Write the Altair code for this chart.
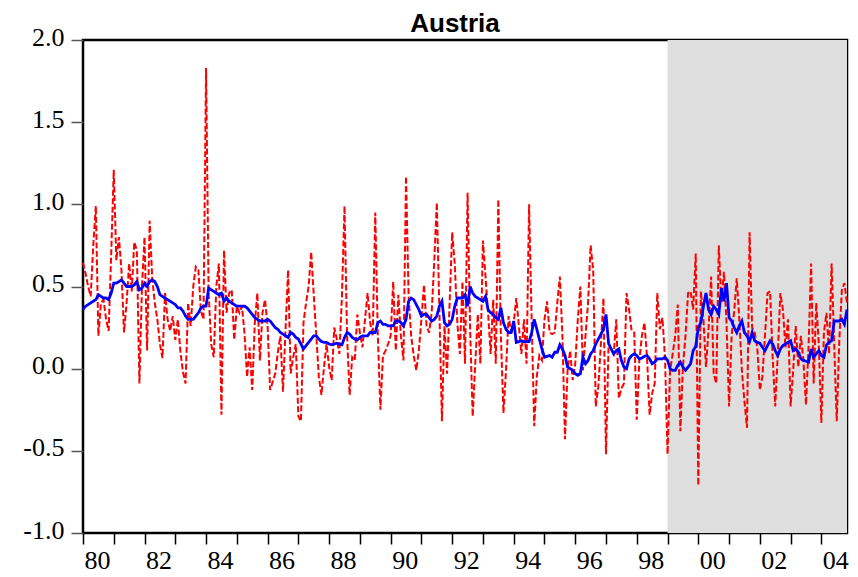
import altair as alt
import pandas as pd

# monthly observations, 1980:01 - 2004:11 (one row per year)
start_year = 1980
euro_start = 1999.0

red_rows = [
    [0.645, 0.58, 0.50, 0.44, 0.75, 0.99, 0.20, 0.40, 0.42, 0.30, 0.23, 0.70],
    [1.21, 0.66, 0.80, 0.60, 0.22, 0.40, 0.64, 0.47, 0.77, 0.72, -0.09, 0.50],
    [0.80, 0.11, 0.90, 0.55, 0.40, 0.30, 0.15, 0.065, 0.46, 0.30, 0.23, 0.32],
    [0.175, 0.30, 0.10, -0.02, -0.09, 0.40, 0.26, 0.50, 0.62, 0.60, 0.35, 0.30],
    [1.83, 0.46, 0.15, 0.07, 0.50, 0.64, -0.28, 0.72, 0.34, 0.46, 0.48, 0.175],
    [0.38, 0.34, 0.38, 0.215, -0.05, 0.13, -0.13, 0.275, 0.46, 0.05, 0.34, 0.42],
    [0.26, -0.13, -0.08, -0.03, 0.10, 0.20, -0.14, 0.24, 0.60, -0.03, 0.07, 0.15],
    [-0.29, -0.32, 0.28, 0.40, 0.50, 0.71, 0.45, 0.20, -0.05, -0.16, 0.01, 0.15],
    [0.01, -0.07, 0.25, 0.18, 0.09, 0.44, 0.99, 0.20, -0.16, 0.07, 0.05, 0.33],
    [0.22, 0.13, 0.30, 0.46, 0.28, 0.20, 0.95, 0.20, -0.25, 0.08, 0.11, 0.15],
    [0.20, 0.53, 0.11, 0.45, 0.20, 0.05, 1.17, 0.44, 0.20, 0.08, -0.01, 0.11],
    [0.30, 0.51, 0.26, 0.22, 0.34, 0.65, 1.01, 0.36, -0.32, 0.26, -0.03, 0.40],
    [0.83, 0.64, 0.28, 0.09, 0.53, 0.03, 1.07, 0.24, -0.29, 0.03, 0.33, 0.03],
    [0.78, 0.56, 0.34, 0.09, 0.42, 0.03, 1.03, 0.20, -0.27, -0.01, 0.32, 0.22],
    [0.28, 0.43, 0.26, 0.09, 0.30, 0.03, 1.00, 0.30, -0.35, -0.05, 0.08, 0.05],
    [0.30, 0.41, 0.22, 0.21, 0.22, 0.40, 0.56, 0.20, -0.43, -0.01, 0.11, -0.07],
    [0.03, 0.30, 0.50, -0.01, 0.20, 0.40, 0.75, 0.60, -0.23, -0.11, 0.15, 0.43],
    [-0.52, 0.15, 0.12, 0.09, 0.30, -0.18, -0.12, -0.09, 0.46, 0.36, 0.23, 0.22],
    [-0.31, 0.05, 0.20, 0.28, 0.07, -0.28, -0.15, -0.09, 0.46, 0.24, 0.31, 0.07],
    [-0.52, -0.01, 0.09, 0.20, 0.39, -0.38, 0.01, 0.20, 0.46, 0.47, 0.36, 0.70],
    [-0.71, 0.47, 0.30, 0.01, 0.24, 0.56, -0.03, -0.09, 0.75, 0.40, 0.59, 0.28],
    [-0.23, 0.20, 0.35, 0.55, 0.30, -0.01, -0.20, -0.36, 0.83, 0.25, 0.22, 0.13],
    [-0.13, -0.05, 0.20, 0.46, 0.47, 0.07, -0.23, 0.09, 0.46, 0.36, 0.13, 0.30],
    [-0.23, -0.01, 0.26, 0.01, 0.20, 0.05, -0.22, 0.13, 0.64, -0.09, 0.40, 0.15],
    [-0.33, 0.22, 0.34, 0.09, 0.64, 0.15, -0.32, 0.17, 0.48, 0.52, 0.40],
]

blue_rows = [
    [0.36, 0.38, 0.39, 0.40, 0.41, 0.42, 0.45, 0.44, 0.43, 0.43, 0.42, 0.46],
    [0.52, 0.52, 0.53, 0.54, 0.52, 0.50, 0.50, 0.50, 0.51, 0.53, 0.48, 0.49],
    [0.52, 0.50, 0.53, 0.54, 0.53, 0.50, 0.45, 0.44, 0.43, 0.42, 0.41, 0.40],
    [0.39, 0.37, 0.37, 0.35, 0.32, 0.30, 0.30, 0.30, 0.32, 0.34, 0.37, 0.38],
    [0.38, 0.49, 0.48, 0.47, 0.46, 0.45, 0.46, 0.41, 0.43, 0.41, 0.40, 0.39],
    [0.38, 0.38, 0.38, 0.38, 0.37, 0.35, 0.33, 0.31, 0.30, 0.29, 0.29, 0.29],
    [0.30, 0.29, 0.27, 0.25, 0.24, 0.22, 0.21, 0.20, 0.19, 0.22, 0.21, 0.19],
    [0.18, 0.15, 0.12, 0.14, 0.16, 0.18, 0.20, 0.20, 0.18, 0.165, 0.16, 0.16],
    [0.15, 0.145, 0.15, 0.155, 0.15, 0.145, 0.19, 0.22, 0.21, 0.19, 0.18, 0.175],
    [0.19, 0.20, 0.20, 0.20, 0.22, 0.22, 0.22, 0.28, 0.29, 0.27, 0.27, 0.26],
    [0.26, 0.26, 0.29, 0.29, 0.28, 0.26, 0.30, 0.41, 0.43, 0.42, 0.39, 0.36],
    [0.32, 0.33, 0.33, 0.31, 0.29, 0.30, 0.32, 0.38, 0.41, 0.28, 0.26, 0.27],
    [0.30, 0.38, 0.43, 0.43, 0.43, 0.45, 0.38, 0.50, 0.46, 0.44, 0.43, 0.42],
    [0.41, 0.44, 0.36, 0.34, 0.33, 0.31, 0.30, 0.37, 0.28, 0.24, 0.22, 0.22],
    [0.29, 0.16, 0.165, 0.17, 0.165, 0.165, 0.165, 0.22, 0.30, 0.24, 0.18, 0.12],
    [0.07, 0.075, 0.08, 0.07, 0.10, 0.10, 0.145, 0.12, 0.08, 0.01, 0.00, -0.01],
    [-0.03, -0.04, -0.03, 0.07, 0.03, 0.05, 0.09, 0.11, 0.15, 0.18, 0.21, 0.24],
    [0.33, 0.155, 0.12, 0.09, 0.11, 0.12, 0.05, 0.01, 0.00, 0.06, 0.08, 0.09],
    [0.08, 0.06, 0.065, 0.075, 0.08, 0.06, 0.03, 0.04, 0.06, 0.06, 0.06, 0.07],
    [0.05, 0.00, -0.01, -0.01, 0.02, 0.04, 0.01, -0.01, 0.01, 0.03, 0.11, 0.135],
    [0.25, 0.28, 0.38, 0.46, 0.36, 0.33, 0.38, 0.36, 0.33, 0.49, 0.41, 0.52],
    [0.31, 0.29, 0.25, 0.22, 0.26, 0.29, 0.22, 0.20, 0.165, 0.22, 0.17, 0.16],
    [0.155, 0.13, 0.11, 0.14, 0.17, 0.15, 0.11, 0.08, 0.12, 0.14, 0.15, 0.16],
    [0.17, 0.11, 0.12, 0.10, 0.06, 0.05, 0.045, 0.04, 0.12, 0.07, 0.09, 0.11],
    [0.08, 0.07, 0.145, 0.16, 0.17, 0.29, 0.29, 0.29, 0.30, 0.27, 0.36],
]

y_ticks = [-1.0, -0.5, 0.0, 0.5, 1.0, 1.5, 2.0]
x_ticks = list(range(1980, 2005))

red = [v for row in red_rows for v in row]
blue = [v for row in blue_rows for v in row]
t = [start_year + i / 12 for i in range(len(red))]
t_end = t[-1]

df = pd.DataFrame({"t": t, "actual": red, "smooth": blue})
band = pd.DataFrame({"a": [euro_start], "b": [t_end], "lo": [-1.0], "hi": [2.0]})

x_axis = alt.Axis(
    values=x_ticks, tickSize=11, tickColor="black", tickWidth=1.5,
    labelExpr="datum.value % 2 == 0 ? format(datum.value % 100, '02d') : ''",
    labelAlign="left", labelOffset=1, labelPadding=3,
    labelFont="Liberation Serif", labelFontSize=26, labelColor="black",
    labelOverlap=False, labelFlush=False, labelBound=False)
y_axis = alt.Axis(
    values=y_ticks, tickSize=12, tickColor="#555555", tickWidth=1.5,
    labelExpr="(datum.value < 0 ? '-' : '') + format(abs(datum.value), '.1f')",
    labelFont="Liberation Serif", labelFontSize=26, labelColor="black",
    labelPadding=7, labelOffset=-3, labelFlush=False, labelOverlap=False)

x_scale = alt.Scale(domain=[start_year, t_end], nice=False, zero=False)
y_scale = alt.Scale(domain=[-1.0, 2.0], nice=False, zero=False)

shade = alt.Chart(band).mark_rect(color="#dedede").encode(
    x=alt.X("a:Q", scale=x_scale, axis=x_axis, title=None),
    x2="b",
    y=alt.Y("lo:Q", scale=y_scale, axis=y_axis, title=None),
    y2="hi")

red_line = alt.Chart(df).mark_line(
    color="#ff0000", strokeWidth=2, strokeDash=[6, 2.5]).encode(
    x=alt.X("t:Q", scale=x_scale, axis=x_axis, title=None),
    y=alt.Y("actual:Q", scale=y_scale, axis=y_axis, title=None))

blue_line = alt.Chart(df).mark_line(color="#0000ff", strokeWidth=2.8).encode(
    x=alt.X("t:Q", scale=x_scale, axis=x_axis, title=None),
    y=alt.Y("smooth:Q", scale=y_scale, axis=y_axis, title=None))

chart = (shade + red_line + blue_line).properties(
    width=764, height=493,
    autosize=alt.AutoSizeParams(type="none"),
    padding={"left": 75, "top": 32, "right": 3, "bottom": 45},
    title=alt.TitleParams(
        "Austria", font="Liberation Sans", fontSize=26, fontWeight="bold",
        color="black", anchor="middle", frame="group", baseline="alphabetic",
        offset=-34, dx=-10),
).configure_view(
    stroke="black", strokeWidth=2.5
).configure_axis(
    domain=False, grid=False
)

chart.save("out.html", embed_options={"renderer": "svg", "actions": False})
